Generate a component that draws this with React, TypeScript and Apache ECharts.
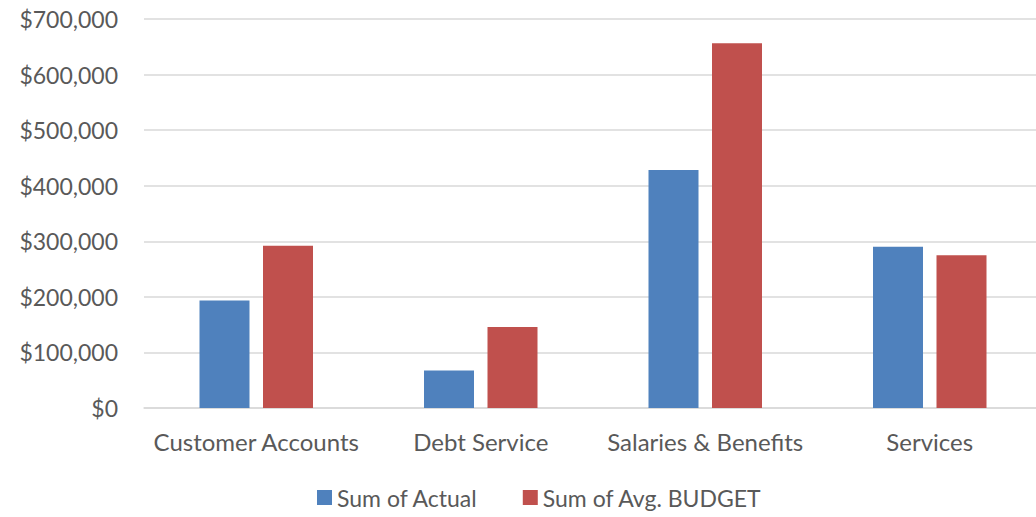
import React, { useEffect, useRef } from "react";
import * as echarts from "echarts";

const categories = ["Customer Accounts", "Debt Service", "Salaries & Benefits", "Services"];
const actualValues = [193600, 67700, 428500, 290200];
const budgetValues = [292000, 145800, 656300, 275000];
const seriesNames = ["Sum of Actual", "Sum of Avg. BUDGET"];
const yTicks = [0, 100000, 200000, 300000, 400000, 500000, 600000, 700000];

const FONT = "Lato, 'Open Sans', sans-serif";

export default function App() {
  const ref = useRef<HTMLDivElement>(null);
  useEffect(() => {
    if (!ref.current) return;
    const chart = echarts.init(ref.current, null, { renderer: "svg" });
    chart.setOption({
      animation: false,
      backgroundColor: "#ffffff",
      grid: {
        left: 144,
        width: 898,
        top: 19,
        bottom: 109,
        containLabel: false,
        outerBoundsMode: "none",
      },
      legend: {
        bottom: 8,
        left: 317,
        padding: 0,
        itemWidth: 15,
        itemHeight: 15,
        itemGap: 45,
        icon: "rect",
        textStyle: { color: "#595959", fontSize: 23, fontFamily: FONT },
        data: seriesNames,
      },
      xAxis: {
        type: "category",
        data: categories,
        axisLine: { show: true, lineStyle: { color: "#D9D9D9", width: 1.5 } },
        axisTick: { show: false },
        axisLabel: { color: "#595959", fontSize: 24, fontFamily: FONT, margin: 21, interval: 0 },
      },
      yAxis: {
        type: "value",
        min: yTicks[0],
        max: yTicks[yTicks.length - 1],
        interval: 100000,
        axisLine: { show: false },
        axisTick: { show: false },
        splitLine: { lineStyle: { color: "#D9D9D9", width: 1.5 } },
        axisLabel: {
          color: "#595959",
          fontSize: 23,
          fontFamily: FONT,
          margin: 26,
          formatter: (v: number) => "$" + v.toLocaleString("en-US"),
        },
      },
      series: [
        {
          name: seriesNames[0],
          type: "bar",
          data: actualValues,
          barWidth: 50,
          barGap: "27%",
          itemStyle: { color: "#4F81BD" },
        },
        {
          name: seriesNames[1],
          type: "bar",
          data: budgetValues,
          barWidth: 50,
          barGap: "27%",
          itemStyle: { color: "#C0504D" },
        },
      ],
    });
    return () => chart.dispose();
  }, []);
  return (
    <div
      ref={ref}
      style={{ position: "fixed", left: 0, top: 0, width: 1036, height: 517 }}
    />
  );
}
